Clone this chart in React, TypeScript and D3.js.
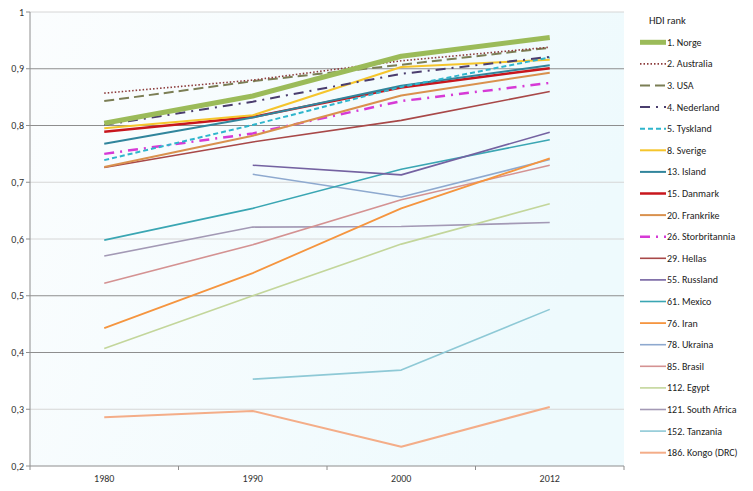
import React from "react";
import * as d3 from "d3";

const years = ["1980", "1990", "2000", "2012"];
const yTicks = [0.2, 0.3, 0.4, 0.5, 0.6, 0.7, 0.8, 0.9, 1];
const darkGrid = [0.4, 0.5, 0.8, 0.9];

const countries = [
  "1. Norge", "2. Australia", "3. USA", "4. Nederland", "5. Tyskland", "8. Sverige",
  "13. Island", "15. Danmark", "20. Frankrike", "26. Storbritannia", "29. Hellas",
  "55. Russland", "61. Mexico", "76. Iran", "78. Ukraina", "85. Brasil", "112. Egypt",
  "121. South Africa", "152. Tanzania", "186. Kongo (DRC)",
];

type V = number | null;
const norge: V[] = [0.804, 0.852, 0.922, 0.955];
const australia: V[] = [0.857, 0.880, 0.914, 0.938];
const usa: V[] = [0.843, 0.878, 0.907, 0.937];
const nederland: V[] = [0.801, 0.842, 0.891, 0.921];
const tyskland: V[] = [0.739, 0.801, 0.868, 0.920];
const sverige: V[] = [0.795, 0.818, 0.903, 0.916];
const island: V[] = [0.768, 0.814, 0.870, 0.906];
const danmark: V[] = [0.789, 0.815, 0.867, 0.901];
const frankrike: V[] = [0.727, 0.782, 0.853, 0.893];
const storbritannia: V[] = [0.750, 0.786, 0.843, 0.875];
const hellas: V[] = [0.726, 0.771, 0.809, 0.860];
const russland: V[] = [null, 0.730, 0.713, 0.788];
const mexico: V[] = [0.598, 0.654, 0.723, 0.775];
const iran: V[] = [0.443, 0.540, 0.654, 0.742];
const ukraina: V[] = [null, 0.714, 0.674, 0.740];
const brasil: V[] = [0.522, 0.590, 0.669, 0.730];
const egypt: V[] = [0.407, 0.500, 0.591, 0.662];
const southAfrica: V[] = [0.570, 0.621, 0.622, 0.629];
const tanzania: V[] = [null, 0.353, 0.369, 0.476];
const kongo: V[] = [0.286, 0.297, 0.234, 0.304];

const seriesValues: V[][] = [
  norge, australia, usa, nederland, tyskland, sverige, island, danmark, frankrike,
  storbritannia, hellas, russland, mexico, iran, ukraina, brasil, egypt, southAfrica,
  tanzania, kongo,
];

const styles: { color: string; width: number; dash?: string }[] = [
  { color: "#9bbb59", width: 5 },
  { color: "#8c3b3b", width: 1.6, dash: "1.5,2" },
  { color: "#7b7e55", width: 2, dash: "10,5" },
  { color: "#4a3d6e", width: 2, dash: "10,6,2,6" },
  { color: "#2fb5cc", width: 2, dash: "5,3" },
  { color: "#f5c52c", width: 2 },
  { color: "#31859c", width: 2 },
  { color: "#c8161d", width: 2.5 },
  { color: "#d9914e", width: 2 },
  { color: "#d63ad6", width: 2.5, dash: "10,6,2,6" },
  { color: "#a84848", width: 1.6 },
  { color: "#7462a1", width: 1.6 },
  { color: "#3aa6b3", width: 1.6 },
  { color: "#f5953f", width: 1.8 },
  { color: "#8ea9cf", width: 1.6 },
  { color: "#d49292", width: 1.6 },
  { color: "#c3d69b", width: 1.6 },
  { color: "#a399b5", width: 1.6 },
  { color: "#8ec9d6", width: 1.6 },
  { color: "#f4ad88", width: 2 },
];

const W = 753;
const H = 491;
const plotLeft = 30;
const plotRight = 624;
const plotTop = 12;
const plotBottom = 466;
const font = "Carlito, Lato, 'Open Sans', sans-serif";

export default function App() {
  const x = d3.scaleBand<string>().domain(years).range([plotLeft, plotRight]).padding(0);
  const y = d3.scaleLinear().domain([0.2, 1]).range([plotBottom, plotTop]);
  const cx = (yr: string) => (x(yr) as number) + x.bandwidth() / 2;

  const line = d3
    .line<{ yr: string; v: V }>()
    .defined((d) => d.v !== null)
    .x((d) => cx(d.yr))
    .y((d) => y(d.v as number));

  const legendY0 = 42.3;
  const legendStep = 21.6;

  return (
    <svg width={W} height={H} style={{ position: "absolute", left: 0, top: 0, background: "#fff" }}>
      <defs>
        <linearGradient id="bg" x1="0" y1="0" x2="1" y2="0.3">
          <stop offset="0" stopColor="#fbfdfe" />
          <stop offset="1" stopColor="#eefafd" />
        </linearGradient>
      </defs>
      <rect x={plotLeft} y={plotTop} width={plotRight - plotLeft} height={plotBottom - plotTop} fill="url(#bg)" />
      {yTicks.map((t) => (
        <g key={t}>
          {t > 0.2 && (
            <line
              x1={plotLeft}
              x2={plotRight}
              y1={y(t)}
              y2={y(t)}
              stroke={darkGrid.includes(t) ? "#8e8e8e" : "#d6d6d6"}
              strokeWidth={1}
            />
          )}
          <line x1={plotLeft - 4} x2={plotLeft} y1={y(t)} y2={y(t)} stroke="#8e8e8e" />
          <text
            x={plotLeft - 6}
            y={y(t)}
            dy="0.35em"
            textAnchor="end"
            fontSize={10}
            fontFamily={font}
            fill="#333"
          >
            {t === 1 ? "1" : d3.format(".1f")(t).replace(".", ",")}
          </text>
        </g>
      ))}
      <line x1={plotLeft} x2={plotLeft} y1={plotTop} y2={plotBottom} stroke="#8e8e8e" />
      <line x1={plotLeft} x2={plotRight} y1={plotBottom} y2={plotBottom} stroke="#8e8e8e" />
      {years.map((yr) => (
        <g key={yr}>
          <line x1={x(yr) as number} x2={x(yr) as number} y1={plotBottom} y2={plotBottom + 4} stroke="#8e8e8e" />
          <text x={cx(yr)} y={plotBottom + 16} textAnchor="middle" fontSize={10} fontFamily={font} fill="#333">
            {yr}
          </text>
        </g>
      ))}
      <line x1={plotRight} x2={plotRight} y1={plotBottom} y2={plotBottom + 4} stroke="#8e8e8e" />
      {seriesValues
        .map((vals, i) => ({ vals, i }))
        .reverse()
        .map(({ vals, i }) => {
          const s = styles[i];
          const d = line(vals.map((v, j) => ({ yr: years[j], v })));
          return (
            <path
              key={countries[i]}
              d={d || ""}
              fill="none"
              stroke={s.color}
              strokeWidth={s.width}
              strokeDasharray={s.dash}
              strokeLinejoin="round"
            />
          );
        })}
      <text x={649} y={20} dy="0.35em" fontSize={10.5} fontFamily={font} fill="#222">
        HDI rank
      </text>
      {countries.map((c, i) => {
        const s = styles[i];
        const ly = legendY0 + i * legendStep;
        return (
          <g key={c}>
            <line
              x1={640}
              x2={666}
              y1={ly}
              y2={ly}
              stroke={s.color}
              strokeWidth={s.width}
              strokeDasharray={s.dash}
            />
            <text x={667} y={ly} dy="0.35em" fontSize={10} fontFamily={font} fill="#222">
              {c}
            </text>
          </g>
        );
      })}
    </svg>
  );
}
